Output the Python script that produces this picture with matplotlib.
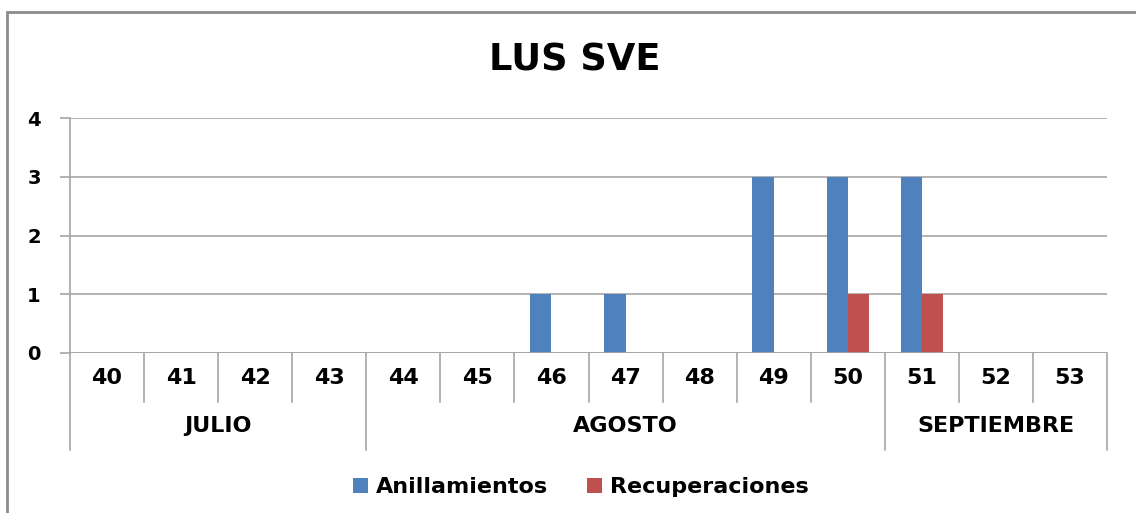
import matplotlib
matplotlib.use('Agg')
import matplotlib.pyplot as plt
from matplotlib.patches import Rectangle
import numpy as np

plt.rcParams['font.family'] = ['DejaVu Sans']

semanas = ['40', '41', '42', '43', '44', '45', '46', '47', '48', '49', '50', '51', '52', '53']
meses = ['JULIO', 'AGOSTO', 'SEPTIEMBRE']
semanas_por_mes = [4, 7, 3]
anillamientos = [0, 0, 0, 0, 0, 0, 1, 1, 0, 3, 3, 3, 0, 0]
recuperaciones = [0, 0, 0, 0, 0, 0, 0, 0, 0, 0, 1, 1, 0, 0]

blue = '#4F81BD'
red = '#C0504D'
grid_gray = '#A6A6A6'

fig = plt.figure(figsize=(11.36, 5.13), dpi=100)
ax = fig.add_axes([70 / 1136, 1 - 353 / 513, (1107 - 70) / 1136, (353 - 118) / 513])

# outer chart border (right/bottom cut off in the reference)
fig.patches.append(Rectangle((7 / 1136, -0.1), 1.1, 1 - 12 / 513 + 0.1,
                             transform=fig.transFigure, fill=False,
                             edgecolor='#8C8C8C', linewidth=2))

x = np.arange(len(semanas))
w = 0.286
ax.bar(x - w / 2, anillamientos, w, color=blue, label='Anillamientos', zorder=3)
ax.bar(x + w / 2, recuperaciones, w, color=red, label='Recuperaciones', zorder=3)

ax.set_xlim(-0.5, len(semanas) - 0.5)
ax.set_ylim(0, 4)
ax.set_yticks([0, 1, 2, 3, 4])
ax.set_yticklabels(['0', '1', '2', '3', '4'], fontsize=14, fontweight='bold')
ax.tick_params(axis='y', length=7, color=grid_gray, width=1.2, pad=14)
ax.set_xticks([])
ax.yaxis.grid(True, color=grid_gray, linewidth=1.2, zorder=0)
for side in ['top', 'right', 'bottom']:
    ax.spines[side].set_visible(False)
ax.spines['left'].set_color(grid_gray)
ax.spines['left'].set_linewidth(1.2)

# category axis with two levels
ax.axhline(0, color=grid_gray, linewidth=1.2, zorder=4)
trans = ax.get_xaxis_transform()
lvl1 = -0.209
lvl2 = -0.413
bordes_mes = np.cumsum([0] + semanas_por_mes) - 0.5
for b in np.arange(len(semanas) + 1) - 0.5:
    bottom = lvl2 if b in bordes_mes else lvl1
    ax.plot([b, b], [0, bottom], transform=trans, color=grid_gray,
            linewidth=1.2, clip_on=False)
for i, s in enumerate(semanas):
    ax.text(i, lvl1 / 2, s, transform=trans, ha='center', va='center',
            fontsize=16, fontweight='bold')
for m, a, b in zip(meses, bordes_mes[:-1], bordes_mes[1:]):
    ax.text((a + b) / 2, (lvl1 + lvl2) / 2, m, transform=trans, ha='center',
            va='center', fontsize=16, fontweight='bold')

fig.text(0.5057, 1 - 60 / 513, 'LUS SVE', ha='center', va='center',
         fontsize=26.5, fontweight='bold')

fig.legend(loc='center', bbox_to_anchor=(0.511, 1 - 487 / 513), ncol=2,
           frameon=False, prop={'size': 16, 'weight': 'bold'},
           handlelength=0.68, handleheight=0.68, handletextpad=0.36,
           columnspacing=1.75)

fig.savefig('out.png', dpi=100)
